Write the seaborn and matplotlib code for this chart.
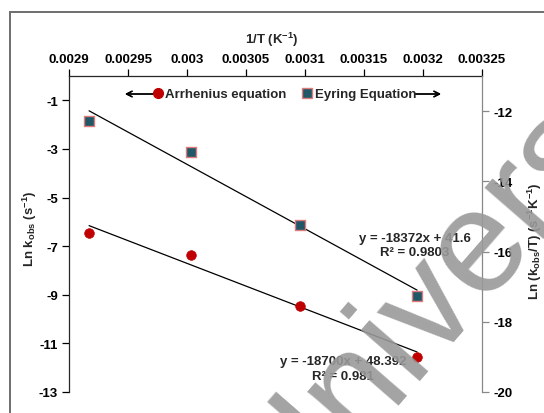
import matplotlib
matplotlib.use("Agg")
import matplotlib.pyplot as plt
from matplotlib.lines import Line2D
from matplotlib.patches import Rectangle
import numpy as np
import pandas as pd
import seaborn as sns

# ── Data ──────────────────────────────────────────────────────────────────────
INV_T = [0.002917, 0.003003, 0.003096, 0.003195]          # 1/T (K^-1)
LN_K = [-6.47, -7.37, -9.45, -11.55]                        # Arrhenius, left axis
LN_K_T = [-12.27, -13.17, -15.23, -17.27]                   # Eyring, right axis

ARR_FIT = (-18700, 48.392, 0.981)
EYR_FIT = (-18372, 41.6, 0.9803)

XTICKS = [0.0029, 0.00295, 0.003, 0.00305, 0.0031, 0.00315, 0.0032, 0.00325]
LEFT_TICKS = [-13, -11, -9, -7, -5, -3, -1]
RIGHT_TICKS = [-20, -18, -16, -14, -12]

# ── Style ─────────────────────────────────────────────────────────────────────
sns.set_style("white")
plt.rcParams["font.family"] = ["Liberation Sans", "DejaVu Sans"]
plt.rcParams["font.weight"] = "bold"
plt.rcParams["mathtext.fontset"] = "custom"
plt.rcParams["mathtext.rm"] = "Liberation Sans:bold"
plt.rcParams["mathtext.bf"] = "Liberation Sans:bold"
plt.rcParams["mathtext.it"] = "Liberation Sans:bold"

RED = "#C00000"
TEAL = "#215868"
EDGE = "#E07B7B"
FS = 9.5

df = pd.DataFrame({"x": INV_T, "arr": LN_K, "eyr": LN_K_T})

W, H = 544, 414
fig = plt.figure(figsize=(W / 100, H / 100), dpi=100)
ax = fig.add_axes([69 / W, 1 - 393 / H, (482 - 69) / W, (393 - 77) / H])
ax2 = ax.twinx()

# trendlines from the fitted equations
xs = np.array([INV_T[0], INV_T[-1]])
ax.plot(xs, ARR_FIT[0] * xs + ARR_FIT[1], color="black", lw=0.9, zorder=2)
ax2.plot(xs, EYR_FIT[0] * xs + EYR_FIT[1], color="black", lw=0.9, zorder=2)

sns.scatterplot(data=df, x="x", y="arr", ax=ax, color=RED, s=48,
                edgecolor=RED, linewidth=0.5, zorder=3)
sns.scatterplot(data=df, x="x", y="eyr", ax=ax2, color=TEAL, marker="s", s=52,
                edgecolor=EDGE, linewidth=1.0, zorder=3)

# ── Axes ──────────────────────────────────────────────────────────────────────
ax.set_xlim(0.0029, 0.00325)
ax.set_ylim(-13, 0)
ax2.set_ylim(-20, -11)
ax.xaxis.tick_top()
ax.xaxis.set_label_position("top")
ax.set_xticks(XTICKS)
ax.set_xticklabels([f"{v:g}" for v in XTICKS], fontsize=FS, fontweight="bold")
ax.set_yticks(LEFT_TICKS)
ax.set_yticklabels([str(v) for v in LEFT_TICKS], fontsize=FS, fontweight="bold")
ax2.set_yticks(RIGHT_TICKS)
ax2.set_yticklabels([str(v) for v in RIGHT_TICKS], fontsize=FS, fontweight="bold")

ax.tick_params(axis="x", direction="out", length=5, width=0.9, pad=3,
               top=True, bottom=False, colors="black")
ax.tick_params(axis="y", direction="out", length=5, width=0.9, pad=3,
               left=True, colors="black")
ax2.tick_params(axis="y", direction="out", length=5, width=0.9, pad=3,
                right=True, colors="black", color="#888888")

for a in (ax, ax2):
    a.spines["bottom"].set_visible(False)
    a.set_facecolor("none")
ax.spines["top"].set_linewidth(0.9)
ax.spines["left"].set_linewidth(0.9)
ax.spines["right"].set_visible(False)
ax2.spines["top"].set_visible(False)
ax2.spines["left"].set_visible(False)
ax2.spines["right"].set_color("#888888")
ax2.spines["right"].set_linewidth(0.9)

ax.set_xlabel(r"1/T (K$^{-1}$)", fontsize=FS, fontweight="bold")
ax.set_ylabel(r"Ln k$_{\mathrm{obs}}$ (s$^{-1}$)", fontsize=FS, fontweight="bold")
ax2.set_ylabel(r"Ln (k$_{\mathrm{obs}}$/T) (s$^{-1}$K$^{-1}$)", fontsize=FS,
               fontweight="bold")
ax.xaxis.set_label_coords(0.492, 1.105)
ax.yaxis.set_label_coords(-0.072, 0.52)
ax2.yaxis.set_label_coords(1.105, 0.48)

# ── Trendline labels ──────────────────────────────────────────────────────────
ax.text(0.838, 0.465,
        f"y = {EYR_FIT[0]}x + {EYR_FIT[1]}\nR² = {EYR_FIT[2]}",
        transform=ax.transAxes, ha="center", va="center", fontsize=FS,
        fontweight="bold", linespacing=1.3)
ax.text(0.663, 0.074,
        f"y = {ARR_FIT[0]}x + {ARR_FIT[1]}\nR² = {ARR_FIT[2]}",
        transform=ax.transAxes, ha="center", va="center", fontsize=FS,
        fontweight="bold", linespacing=1.3)

# ── Legend with arrows ────────────────────────────────────────────────────────
handles = [
    Line2D([], [], ls="none", marker="o", ms=7, color=RED, mec=RED),
    Line2D([], [], ls="none", marker="s", ms=7, color=TEAL, mec=EDGE, mew=1.0),
]
fig.legend(handles, ["Arrhenius equation", "Eyring Equation"], ncol=2,
           loc="center", bbox_to_anchor=(285 / W, 1 - 95 / H), frameon=False,
           fontsize=FS, handlelength=0.6, handletextpad=0.25,
           columnspacing=1.3, borderpad=0)
arrow = dict(arrowstyle="->", lw=1.0, color="black", shrinkA=0, shrinkB=0)
fig.add_artist(plt.annotate("", xy=(125, H - 95), xytext=(153, H - 95),
                            xycoords="figure pixels", textcoords="figure pixels",
                            arrowprops=arrow, annotation_clip=False))
fig.add_artist(plt.annotate("", xy=(441, H - 95), xytext=(415, H - 95),
                            xycoords="figure pixels", textcoords="figure pixels",
                            arrowprops=arrow, annotation_clip=False))

# ── Outer chart frame and watermark ──────────────────────────────────────────
fig.patches.append(Rectangle((10 / W, -0.1), 1.2, 1 - 13 / H + 0.1,
                             transform=fig.transFigure, fill=False,
                             edgecolor="#6e6e6e", lw=1.4, clip_on=False))
fig.text(0.865, 0.39, "University", rotation=49, rotation_mode="anchor",
         ha="center", va="center", fontsize=106, fontweight="normal",
         color="#999999", alpha=0.9, zorder=10)

fig.savefig("out.png", dpi=100)
